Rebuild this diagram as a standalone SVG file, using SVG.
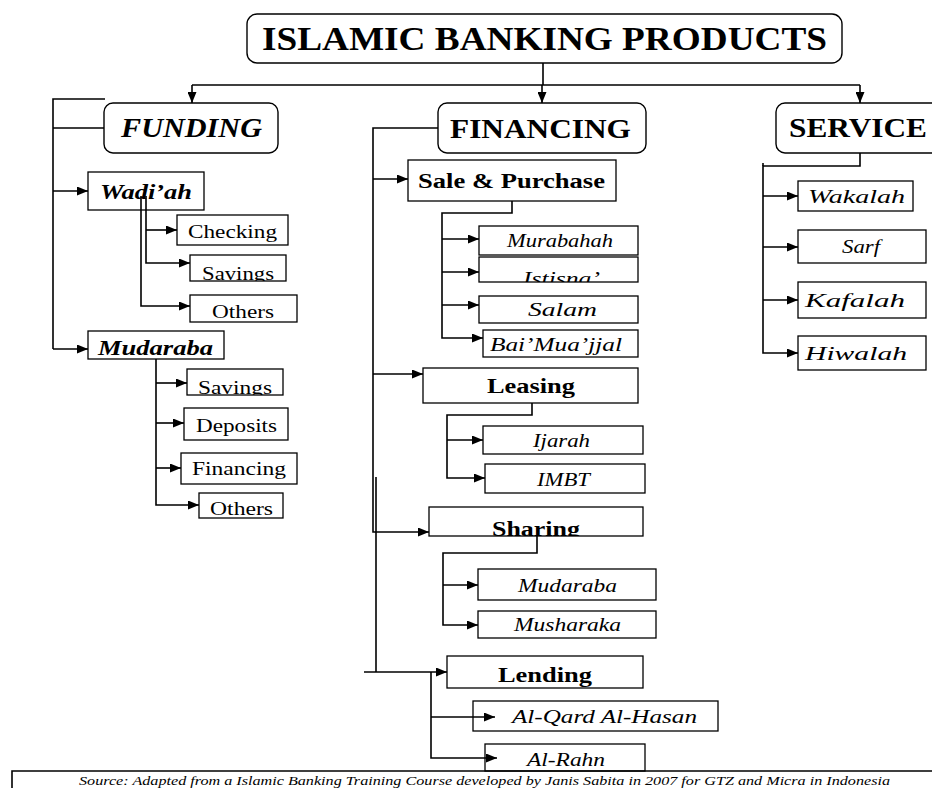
<svg xmlns="http://www.w3.org/2000/svg" width="932" height="788" viewBox="0 0 932 788">
<defs>
<style>
.bg{fill:#fff}
.box{fill:#fff;stroke:#000;stroke-width:1.3}
.rbox{fill:#fff;stroke:#000;stroke-width:1.4}
.ln{fill:none;stroke:#000;stroke-width:1.6}
.ar{fill:none;stroke:#000;stroke-width:1.6;marker-end:url(#ah)}
text{font-family:"Liberation Serif","Times New Roman",serif;fill:#000}
.h{font-weight:bold;font-size:27px}
.hi{font-weight:bold;font-style:italic;font-size:28px}
.b{font-weight:bold;font-size:20px}
.bi{font-weight:bold;font-style:italic;font-size:21px}
.r{font-size:19px}
.i{font-style:italic;font-size:18px}
.src{font-style:italic;font-size:13px}
</style>
<marker id="ah" markerUnits="userSpaceOnUse" markerWidth="11" markerHeight="9" refX="11" refY="4.5" orient="auto">
<path d="M0,0 L11,4.5 L0,9 z" fill="#000"/>
</marker>
<clipPath id="cSavW"><rect x="190" y="255" width="96" height="26"/></clipPath>
<clipPath id="cSavM"><rect x="187" y="369" width="96" height="26"/></clipPath>
<clipPath id="cIst"><rect x="479" y="257" width="159" height="25"/></clipPath>
<clipPath id="cSha"><rect x="429" y="507" width="214" height="29"/></clipPath>
</defs>
<rect class="bg" x="0" y="0" width="932" height="788"/>

<g id="title"><rect class="rbox" x="247" y="14" width="595" height="49" rx="10"/><text x="262" y="50" font-weight="bold" font-size="33" textLength="565" lengthAdjust="spacingAndGlyphs">ISLAMIC BANKING PRODUCTS</text></g>

<g id="funding"><rect class="rbox" x="104" y="103" width="174" height="50" rx="9"/><text class="hi" x="121" y="137" textLength="141" lengthAdjust="spacingAndGlyphs">FUNDING</text></g>
<g id="financing"><rect class="rbox" x="438" y="103" width="208" height="50" rx="9"/><text class="h" x="450" y="138" textLength="181" lengthAdjust="spacingAndGlyphs">FINANCING</text></g>
<g id="service"><rect class="rbox" x="776" y="103" width="170" height="50" rx="9"/><text class="h" x="789" y="137" textLength="138" lengthAdjust="spacingAndGlyphs">SERVICE</text></g>

<g id="wadiah"><rect class="box" x="88" y="172" width="116" height="38"/><text class="bi" x="100" y="199" textLength="92" lengthAdjust="spacingAndGlyphs">Wadi’ah</text></g>
<g id="checking"><rect class="box" x="177" y="215" width="111" height="30"/><text class="r" x="188" y="238" textLength="89" lengthAdjust="spacingAndGlyphs">Checking</text></g>
<g id="savings-w"><rect class="box" x="190" y="255" width="96" height="26"/><text class="r" x="202" y="280" textLength="72" lengthAdjust="spacingAndGlyphs" clip-path="url(#cSavW)">Savings</text></g>
<g id="others-w"><rect class="box" x="190" y="295" width="107" height="27"/><text class="r" x="212" y="318" textLength="62" lengthAdjust="spacingAndGlyphs">Others</text></g>

<g id="mudaraba-f"><rect class="box" x="88" y="331" width="136" height="28"/><text class="bi" x="98" y="355" font-size="22" textLength="115" lengthAdjust="spacingAndGlyphs">Mudaraba</text></g>
<g id="savings-m"><rect class="box" x="187" y="369" width="96" height="26"/><text class="r" x="198" y="394" textLength="74" lengthAdjust="spacingAndGlyphs" clip-path="url(#cSavM)">Savings</text></g>
<g id="deposits"><rect class="box" x="184" y="408" width="104" height="32"/><text class="r" x="196" y="432" textLength="81" lengthAdjust="spacingAndGlyphs">Deposits</text></g>
<g id="financing-f"><rect class="box" x="181" y="453" width="116" height="31"/><text class="r" x="192" y="475" textLength="94" lengthAdjust="spacingAndGlyphs">Financing</text></g>
<g id="others-m"><rect class="box" x="199" y="493" width="84" height="25"/><text class="r" x="210" y="515" textLength="63" lengthAdjust="spacingAndGlyphs">Others</text></g>

<g id="sale"><rect class="box" x="408" y="160" width="208" height="41"/><text class="b" x="418" y="188" textLength="187" lengthAdjust="spacingAndGlyphs">Sale &amp; Purchase</text></g>
<g id="murabahah"><rect class="box" x="479" y="226" width="159" height="29"/><text class="i" x="507" y="247" textLength="106" lengthAdjust="spacingAndGlyphs">Murabahah</text></g>
<g id="istisna"><rect class="box" x="479" y="257" width="159" height="25"/><text class="i" x="523" y="285" textLength="77" lengthAdjust="spacingAndGlyphs" clip-path="url(#cIst)">Istisna’</text></g>
<g id="salam"><rect class="box" x="479" y="296" width="159" height="27"/><text class="i" x="528" y="316" textLength="69" lengthAdjust="spacingAndGlyphs">Salam</text></g>
<g id="baimuajjal"><rect class="box" x="483" y="330" width="155" height="27"/><text class="i" x="490" y="351" textLength="132" lengthAdjust="spacingAndGlyphs">Bai’Mua’jjal</text></g>

<g id="leasing"><rect class="box" x="423" y="368" width="215" height="35"/><text class="b" x="487" y="393" textLength="88" lengthAdjust="spacingAndGlyphs">Leasing</text></g>
<g id="ijarah"><rect class="box" x="483" y="426" width="160" height="28"/><text class="i" x="533" y="447" textLength="57" lengthAdjust="spacingAndGlyphs">Ijarah</text></g>
<g id="imbt"><rect class="box" x="485" y="464" width="160" height="29"/><text class="i" x="537" y="486" textLength="53" lengthAdjust="spacingAndGlyphs">IMBT</text></g>

<g id="sharing"><rect class="box" x="429" y="507" width="214" height="29"/><text class="b" x="492" y="536" textLength="88" lengthAdjust="spacingAndGlyphs" clip-path="url(#cSha)">Sharing</text></g>
<g id="mudaraba-s"><rect class="box" x="478" y="569" width="178" height="31"/><text class="i" x="518" y="592" textLength="99" lengthAdjust="spacingAndGlyphs">Mudaraba</text></g>
<g id="musharaka"><rect class="box" x="478" y="611" width="178" height="27"/><text class="i" x="514" y="631" textLength="107" lengthAdjust="spacingAndGlyphs">Musharaka</text></g>

<g id="lending"><rect class="box" x="447" y="656" width="196" height="32"/><text class="b" x="498" y="682" textLength="94" lengthAdjust="spacingAndGlyphs">Lending</text></g>
<g id="alqard"><rect class="box" x="473" y="701" width="245" height="30"/><text class="i" x="512" y="723" textLength="185" lengthAdjust="spacingAndGlyphs">Al-Qard Al-Hasan</text></g>
<g id="alrahn"><rect class="box" x="485" y="744" width="160" height="27"/><text class="i" x="527" y="766" textLength="78" lengthAdjust="spacingAndGlyphs">Al-Rahn</text></g>

<g id="wakalah"><rect class="box" x="798" y="181" width="115" height="30"/><text class="i" x="808" y="203" textLength="97" lengthAdjust="spacingAndGlyphs">Wakalah</text></g>
<g id="sarf"><rect class="box" x="798" y="230" width="128" height="33"/><text class="i" x="842" y="253" textLength="38" lengthAdjust="spacingAndGlyphs">Sarf</text></g>
<g id="kafalah"><rect class="box" x="798" y="282" width="128" height="36"/><text class="i" x="805" y="307" textLength="100" lengthAdjust="spacingAndGlyphs">Kafalah</text></g>
<g id="hiwalah"><rect class="box" x="798" y="336" width="128" height="34"/><text class="i" x="805" y="360" textLength="102" lengthAdjust="spacingAndGlyphs">Hiwalah</text></g>

<g id="connectors">
<path class="ln" d="M543,63 V85 M192,85 H860"/>
<path class="ar" d="M192,85 V103"/>
<path class="ar" d="M542,85 V103"/>
<path class="ar" d="M860,85 V103"/>

<path class="ln" d="M105,99 H53 V349 M53,128 H104"/>
<path class="ar" d="M53,191 H88"/>
<path class="ar" d="M53,349 H88"/>
<path class="ar" d="M146,196 V263 H190"/>
<path class="ar" d="M146,230 H177"/>
<path class="ar" d="M141,196 V306 H190"/>

<path class="ar" d="M156,359 V505 H199"/>
<path class="ar" d="M156,383 H187"/>
<path class="ar" d="M156,423 H184"/>
<path class="ar" d="M156,468 H181"/>

<path class="ar" d="M438,128 H373 V532 H429"/>
<path class="ar" d="M373,179 H408"/>
<path class="ar" d="M373,374 H423"/>
<path class="ln" d="M376,477 V672"/>
<path class="ar" d="M364,672 H447"/>

<path class="ar" d="M512,201 V213 H442 V338 H483"/>
<path class="ar" d="M442,239 H479"/>
<path class="ar" d="M442,272 H479"/>
<path class="ar" d="M442,305 H479"/>

<path class="ar" d="M532,403 V415 H447 V478 H485"/>
<path class="ar" d="M447,440 H483"/>

<path class="ar" d="M537,536 V553 H443 V625 H478"/>
<path class="ar" d="M443,585 H478"/>

<path class="ar" d="M431,672 V758 H497"/>
<path class="ar" d="M431,717 H495"/>

<path class="ar" d="M860,153 V166 H763 V353 H798"/>
<path class="ln" d="M763,163 V166"/>
<path class="ar" d="M763,196 H798"/>
<path class="ar" d="M763,247 H798"/>
<path class="ar" d="M763,300 H798"/>
</g>

<g id="source">
<path class="ln" d="M12,788 V771 H932" stroke-width="1.3"/>
<text class="src" x="79" y="785" textLength="811" lengthAdjust="spacingAndGlyphs">Source:  Adapted from a Islamic Banking Training Course developed by Janis Sabita in 2007 for GTZ and Micra in Indonesia</text>
</g>
</svg>
